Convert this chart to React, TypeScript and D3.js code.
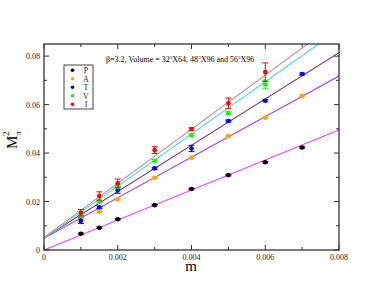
import React, { useEffect, useRef } from "react";
import * as d3 from "d3";

const W = 382, H = 295;
const mValues = [0.001, 0.0015, 0.002, 0.003, 0.004, 0.005, 0.006, 0.007];
const pVals = [0.0067, 0.0092, 0.0127, 0.0185, 0.0252, 0.0309, 0.0362, 0.0423];
const pErr = [0.0003, 0.0003, 0.0003, 0.0003, 0.0003, 0.0003, 0.0003, 0.0003];
const aVals = [0.0118, 0.0158, 0.0209, 0.0298, 0.0381, 0.047, 0.0546, 0.0636];
const aErr = [0.0003, 0.0003, 0.0003, 0.0003, 0.0003, 0.0003, 0.0003, 0.0003];
const tVals = [0.0121, 0.0176, 0.0247, 0.0337, 0.0419, 0.0532, 0.0616, 0.0726];
const tErr = [0.0012, 0.0005, 0.0013, 0.0004, 0.0013, 0.0004, 0.0004, 0.0004];
const vM = [0.001, 0.0015, 0.002, 0.003, 0.004, 0.005, 0.006];
const vVals = [0.014, 0.0199, 0.0262, 0.0368, 0.0474, 0.0564, 0.0683];
const vErr = [0.0004, 0.0005, 0.0006, 0.0005, 0.0004, 0.0006, 0.0018];
const iM = [0.001, 0.0015, 0.002, 0.003, 0.004, 0.005, 0.006];
const iVals = [0.0154, 0.0223, 0.0275, 0.0412, 0.0499, 0.0605, 0.0734];
const iErr = [0.0013, 0.0017, 0.0018, 0.0014, 0.0005, 0.0022, 0.0038];

// linear fits: [intercept, slope]
const fitP = [0, 6.19];
const fitA = [0.0048, 8.37];
const fitT = [0.005, 9.55];
const fitV = [0.0048, 10.77];
const fitI = [0.0052, 11.16];

const legendLabels = ["P", "A", "T", "V", "I"];
const colors = ["#000000", "#ffa500", "#0000ff", "#00ff00", "#ff0000"];
const fitColors = ["#ff33ff", "#a040ff", "#7a2a66", "#40e0d0", "#bc8f8f"];
const xTicks = [0, 0.002, 0.004, 0.006, 0.008];
const yTicks = [0, 0.02, 0.04, 0.06, 0.08];

export default function App() {
  const ref = useRef<SVGSVGElement>(null);
  useEffect(() => {
    const svg = d3.select(ref.current);
    svg.selectAll("*").remove();
    const L = 44, R = 339, T = 44, B = 250;
    const x = d3.scaleLinear().domain([0, 0.008]).range([L, R]);
    const y = d3.scaleLinear().domain([0, 0.085]).range([B, T]);
    const font = "'Liberation Serif', 'Times New Roman', serif";

    const clipId = "plotclip";
    svg.append("clipPath").attr("id", clipId).append("rect")
      .attr("x", L).attr("y", T).attr("width", R - L).attr("height", B - T);

    const fits = [fitP, fitA, fitT, fitV, fitI];
    fits.forEach((f, i) => {
      svg.append("path")
        .attr("clip-path", `url(#${clipId})`)
        .attr("d", d3.line<number>().x((m) => x(m)).y((m) => y(f[0] + f[1] * m))([0, 0.008]) as string)
        .attr("fill", "none").attr("stroke", fitColors[i]).attr("stroke-width", 1.1);
    });

    const series = [
      { m: mValues, v: pVals, e: pErr },
      { m: mValues, v: aVals, e: aErr },
      { m: mValues, v: tVals, e: tErr },
      { m: vM, v: vVals, e: vErr },
      { m: iM, v: iVals, e: iErr },
    ];
    series.forEach((s, si) => {
      const g = svg.append("g");
      s.m.forEach((m, k) => {
        const cx = x(m), v = s.v[k], e = s.e[k];
        const y1 = y(v + e), y2 = y(v - e);
        g.append("line").attr("x1", cx).attr("x2", cx).attr("y1", y1).attr("y2", y2)
          .attr("stroke", colors[si]).attr("stroke-width", 1);
        [y1, y2].forEach((yy) => g.append("line").attr("x1", cx - 3).attr("x2", cx + 3)
          .attr("y1", yy).attr("y2", yy).attr("stroke", colors[si]).attr("stroke-width", 1));
        g.append("circle").attr("cx", cx).attr("cy", y(v)).attr("r", 2.3).attr("fill", colors[si]);
      });
    });

    // frame
    svg.append("rect").attr("x", L).attr("y", T).attr("width", R - L).attr("height", B - T)
      .attr("fill", "none").attr("stroke", "#333").attr("stroke-width", 1.3);

    const tickColor = "#333";
    d3.range(0, 0.0081, 0.001).forEach((m, i) => {
      const len = i % 2 === 0 ? 5 : 3;
      const px = x(m);
      svg.append("line").attr("x1", px).attr("x2", px).attr("y1", B).attr("y2", B - len).attr("stroke", tickColor);
      svg.append("line").attr("x1", px).attr("x2", px).attr("y1", T).attr("y2", T + len).attr("stroke", tickColor);
    });
    d3.range(0, 0.0851, 0.01).forEach((v, i) => {
      const len = i % 2 === 0 ? 5 : 3;
      const py = y(v);
      svg.append("line").attr("x1", L).attr("x2", L + len).attr("y1", py).attr("y2", py).attr("stroke", tickColor);
      svg.append("line").attr("x1", R).attr("x2", R - len).attr("y1", py).attr("y2", py).attr("stroke", tickColor);
    });
    xTicks.forEach((m) => {
      svg.append("text").attr("x", x(m)).attr("y", B + 10).attr("text-anchor", "middle")
        .attr("font-family", font).attr("font-size", 8).attr("fill", "#222").text(String(m));
    });
    yTicks.forEach((v) => {
      svg.append("text").attr("x", L - 4).attr("y", y(v) + 3).attr("text-anchor", "end")
        .attr("font-family", font).attr("font-size", 8).attr("fill", "#222").text(v === 0 ? "0" : v.toFixed(2));
    });

    // axis labels
    svg.append("text").attr("x", 191).attr("y", 271).attr("text-anchor", "middle")
      .attr("font-family", font).attr("font-size", 15).attr("fill", "#000").text("m");
    const yl = svg.append("text").attr("transform", "translate(17,149) rotate(-90)")
      .attr("font-family", font).attr("font-size", 15).attr("fill", "#000");
    yl.append("tspan").text("M");
    yl.append("tspan").attr("font-size", 9).attr("dy", 4).text("π");
    yl.append("tspan").attr("font-size", 9).attr("dx", -5).attr("dy", -12).text("2");

    // title
    const t = svg.append("text").attr("x", 106).attr("y", 62).attr("font-family", font)
      .attr("font-size", 8).attr("fill", "#000");
    const parts: [string, boolean][] = [["β=3.2, Volume = 32", false], ["3", true], ["X64, 48", false], ["3", true], ["X96 and 56", false], ["3", true], ["X96", false]];
    let prevSup = false;
    parts.forEach(([s, sup]) => {
      const dy = sup ? -3 : prevSup ? 3 : 0;
      t.append("tspan").attr("font-size", sup ? 5 : 8).attr("dy", dy).text(s);
      prevSup = sup;
    });

    // legend
    svg.append("rect").attr("x", 64).attr("y", 65).attr("width", 29).attr("height", 44)
      .attr("fill", "#fff").attr("stroke", "#444").attr("stroke-width", 1);
    legendLabels.forEach((lab, i) => {
      const ly = 70.3 + i * 8.5;
      svg.append("circle").attr("cx", 72.5).attr("cy", ly).attr("r", 1.8).attr("fill", colors[i]);
      svg.append("text").attr("x", 86).attr("y", ly + 3).attr("text-anchor", "middle")
        .attr("font-family", font).attr("font-size", 8).attr("fill", "#222").text(lab);
    });
  }, []);
  return (
    <svg ref={ref} width={W} height={H} style={{ position: "absolute", left: 0, top: 0, background: "#fff" }} />
  );
}
